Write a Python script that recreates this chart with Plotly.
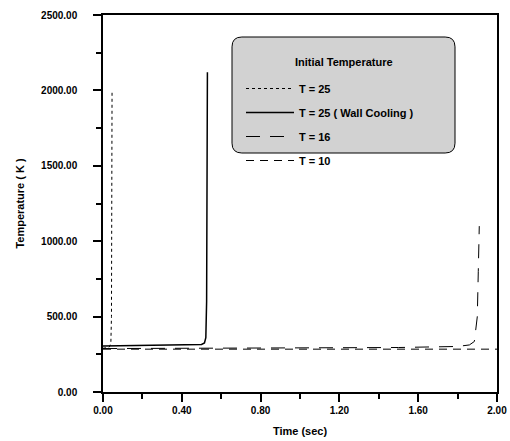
import plotly.graph_objects as go

# Series data (time in sec, temperature in K)
t_25 = [0.0, 0.02, 0.03, 0.035, 0.04, 0.043, 0.045, 0.046]
T_25 = [290, 292, 296, 305, 330, 500, 1200, 2000]

t_25w = [0.0, 0.2, 0.4, 0.5, 0.515, 0.522, 0.526, 0.528, 0.53]
T_25w = [305, 307, 310, 315, 325, 360, 600, 1500, 2120]

t_16 = [0.0, 0.5, 1.0, 1.5, 1.8, 1.86, 1.885, 1.9, 1.905, 1.91]
T_16 = [288, 290, 292, 295, 302, 312, 335, 500, 800, 1100]

t_10 = [0.0, 2.0]
T_10 = [284, 284]

names = ["T = 25", "T = 25 ( Wall Cooling )", "T = 16", "T = 10"]
legend_title = "Initial Temperature"
x_ticks = [0.0, 0.4, 0.8, 1.2, 1.6, 2.0]
y_ticks = [0, 500, 1000, 1500, 2000, 2500]

FONT = "Liberation Sans, Arial, sans-serif"

fig = go.Figure()
fig.add_trace(go.Scatter(x=t_25, y=T_25, mode="lines", name=names[0], legendgroup="a",
                         line=dict(color="black", width=1, dash="dot")))
fig.add_trace(go.Scatter(x=t_25w, y=T_25w, mode="lines", name=names[1], legendgroup="b",
                         line=dict(color="black", width=1.5)))
fig.add_trace(go.Scatter(x=t_16, y=T_16, mode="lines", name=names[2], legendgroup="c",
                         line=dict(color="black", width=1, dash="14px,10px")))
fig.add_trace(go.Scatter(x=t_10, y=T_10, mode="lines", name=names[3], legendgroup="d",
                         line=dict(color="black", width=1, dash="8px,6px")))

# plot area in page pixels: x 103..497, y 15..392
PW, PH = 394, 377

def px(xp):
    return (xp - 103) / PW

def py(yp):
    return (392 - yp) / PH

# rounded legend background
x0, x1, y0, y1 = px(232), px(455), py(153), py(37)
r = 0.025
ry = r * PW / PH
path = (f"M {x0+r},{y1} L {x1-r},{y1} Q {x1},{y1} {x1},{y1-ry} L {x1},{y0+ry} "
        f"Q {x1},{y0} {x1-r},{y0} L {x0+r},{y0} Q {x0},{y0} {x0},{y0+ry} "
        f"L {x0},{y1-ry} Q {x0},{y1} {x0+r},{y1} Z")
fig.add_shape(type="path", path=path, xref="paper", yref="paper",
              fillcolor="#d2d2d2", line=dict(color="black", width=1), layer="below")

fig.add_annotation(text=legend_title, x=(x0 + x1) / 2, y=py(62),
                   xref="paper", yref="paper", showarrow=False,
                   xanchor="center", yanchor="middle",
                   font=dict(family=FONT, size=11, color="black", weight="bold"))

axis_common = dict(showline=True, linecolor="black", linewidth=1.5, mirror=True,
                   ticks="outside", ticklen=8, tickwidth=1.5, tickcolor="black",
                   showgrid=False, zeroline=False, automargin=False,
                   tickfont=dict(family=FONT, size=10, color="black", weight="bold"))

fig.update_layout(
    width=510, height=441,
    margin=dict(l=103, r=13, t=15, b=49),
    plot_bgcolor="white", paper_bgcolor="white",
    showlegend=True,
    legend=dict(x=px(241), y=py(74), xanchor="left", yanchor="top",
                bgcolor="rgba(0,0,0,0)", borderwidth=0,
                tracegroupgap=5, itemwidth=48,
                font=dict(family=FONT, size=11, color="black", weight="bold")),
    xaxis=dict(range=[0, 2], tickvals=x_ticks, tickformat=".2f",
               minor=dict(ticks="outside", ticklen=5, tickwidth=1.5, tickcolor="black", dtick=0.2),
               title=dict(text="Time (sec)", standoff=13,
                          font=dict(family=FONT, size=11, color="black", weight="bold")),
               **axis_common),
    yaxis=dict(range=[0, 2500], tickvals=y_ticks, tickformat=".2f",
               ticklabelstandoff=14,
               minor=dict(ticks="outside", ticklen=5, tickwidth=1.5, tickcolor="black", dtick=250),
               title=dict(text="Temperature ( K )", standoff=14,
                          font=dict(family=FONT, size=11, color="black", weight="bold")),
               **axis_common),
)

fig.write_html("out.html", config={"displayModeBar": False},
               post_script="document.body.style.margin='0px';document.body.style.overflow='hidden';")
